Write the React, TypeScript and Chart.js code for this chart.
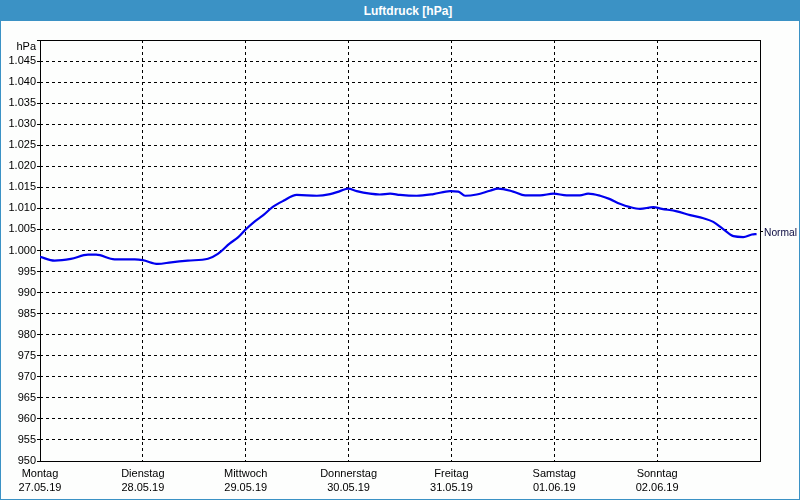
import React, { useEffect, useRef } from "react";
import { Chart, registerables } from "chart.js";

Chart.register(...registerables);

const hours = [
  0, 3.4, 7.2, 11.2, 13.1, 17.4, 22.1, 24.0, 27.5, 30.6, 34.5, 39.2, 41.5, 44.3, 46.2,
  48.1, 50.2, 52.1, 54.1, 56.8, 59.9, 64.6, 67.7, 70.0, 71.9, 73.9, 77.0, 79.3, 81.7,
  84.0, 87.9, 91.8, 95.7, 97.6, 99.2, 101.9, 105.0, 106.9, 110.4, 113.2, 116.7, 119.8,
  122.9, 126.0, 127.9, 130.7, 133.0, 135.3, 137.7, 140.0, 143.1, 145.1, 148.6, 151.7,
  154.8, 157.1, 159.4, 161.8, 164.1, 166.1, 167.2,
];
const pressure = [
  998.5, 997.6, 998.0, 999.0, 999.0, 997.9, 997.9, 997.7, 996.8, 997.2, 997.6, 998.05, 999.2,
  1001.7, 1003.1, 1005.1, 1007.0, 1008.4, 1010.2, 1011.8, 1013.2, 1013.0, 1013.4, 1014.1,
  1014.7, 1014.1, 1013.5, 1013.3, 1013.5, 1013.2, 1013.0, 1013.4, 1014.1, 1014.0, 1013.0,
  1013.3, 1014.2, 1014.7, 1014.0, 1013.1, 1013.1, 1013.5, 1013.1, 1013.1, 1013.5, 1013.0,
  1012.2, 1011.1, 1010.3, 1009.9, 1010.3, 1009.9, 1009.3, 1008.4, 1007.65, 1006.8, 1005.1,
  1003.4, 1003.2, 1003.8, 1003.9,
];
const dayNames = ["Montag", "Dienstag", "Mittwoch", "Donnerstag", "Freitag", "Samstag", "Sonntag"];
const dayDates = ["27.05.19", "28.05.19", "29.05.19", "30.05.19", "31.05.19", "01.06.19", "02.06.19"];
const yMin = 950;
const yMax = 1050;
const yStep = 5;
const normalValue = 1004.6;
const normalLabel = "Normal";
const unitLabel = "hPa";
const title = "Luftdruck [hPa]";

const FONT = "'Liberation Sans', Arial, sans-serif";

function fmtY(v: number): string {
  if (v >= yMax) return "";
  if (v >= 1000) {
    const s = String(v);
    return s[0] + "." + s.slice(1);
  }
  return String(v);
}

const overlayPlugin = {
  id: "overlay",
  beforeDatasetsDraw(chart: any) {
    const { ctx, chartArea } = chart;
    ctx.save();
    ctx.strokeStyle = "#000";
    ctx.lineWidth = 1;
    ctx.setLineDash([]);
    ctx.strokeRect(
      Math.round(chartArea.left) + 0.5,
      Math.round(chartArea.top) + 0.5,
      Math.round(chartArea.right - chartArea.left),
      Math.round(chartArea.bottom - chartArea.top)
    );
    ctx.restore();
  },
  afterDraw(chart: any) {
    const { ctx, chartArea, scales } = chart;
    ctx.save();
    ctx.font = "11px " + FONT;
    ctx.fillStyle = "#000";
    ctx.textAlign = "right";
    ctx.textBaseline = "middle";
    ctx.fillText(unitLabel, chartArea.left - 4, chartArea.top + 7);
    const ny = Math.round(scales.y.getPixelForValue(normalValue)) + 0.5;
    ctx.strokeStyle = "#000";
    ctx.lineWidth = 1;
    ctx.beginPath();
    ctx.moveTo(chartArea.right + 1, ny);
    ctx.lineTo(chartArea.right + 3, ny);
    ctx.stroke();
    ctx.fillStyle = "#0a0a40";
    ctx.textAlign = "left";
    ctx.fillText(normalLabel, chartArea.right + 4, ny + 1, 33);
    ctx.restore();
  },
};

export default function App() {
  const ref = useRef<HTMLCanvasElement>(null);
  useEffect(() => {
    if (!ref.current) return;
    const chart = new Chart(ref.current, {
      type: "line",
      data: {
        datasets: [
          {
            data: hours.map((h, i) => ({ x: h, y: pressure[i] })),
            borderColor: "#0000ee",
            borderWidth: 2.2,
            pointRadius: 0,
            tension: 0.4,
            cubicInterpolationMode: "monotone",
            fill: false,
          },
        ],
      },
      options: {
        animation: false,
        responsive: false,
        devicePixelRatio: 1,
        layout: { padding: { top: 19, right: 39, left: 0, bottom: 0 } },
        plugins: { legend: { display: false }, tooltip: { enabled: false }, title: { display: false } },
        scales: {
          x: {
            type: "linear",
            min: 0,
            max: 168,
            afterFit: (s: any) => {
              s.height = 38;
            },
            afterBuildTicks: (s: any) => {
              s.ticks = [0, 24, 48, 72, 96, 120, 144, 168].map((v) => ({ value: v }));
            },
            ticks: {
              autoSkip: false,
              maxRotation: 0,
              padding: 6,
              color: "#000",
              font: { family: FONT, size: 11, lineHeight: 1.3 },
              callback: (v: any) => {
                const i = Math.round(Number(v) / 24);
                return i < dayNames.length ? [dayNames[i], dayDates[i]] : "";
              },
            },
            grid: { color: "#000", lineWidth: 1, drawTicks: false },
            border: { display: false, dash: [3, 3] },
          },
          y: {
            min: yMin,
            max: yMax,
            afterFit: (s: any) => {
              s.width = 39;
            },
            ticks: {
              stepSize: yStep,
              autoSkip: false,
              padding: 1,
              color: "#000",
              font: { family: FONT, size: 11 },
              callback: (v: any) => fmtY(Number(v)),
            },
            grid: { color: "#000", lineWidth: 1, tickLength: 3, tickBorderDash: [] },
            border: { display: false, dash: [3, 3] },
          },
        },
      },
      plugins: [overlayPlugin],
    } as any);
    return () => chart.destroy();
  }, []);

  return (
    <div
      style={{
        position: "fixed",
        left: 0,
        top: 0,
        width: 800,
        height: 500,
        boxSizing: "border-box",
        border: "1px solid #3b92c5",
        background: "#fdfefd",
        overflow: "hidden",
      }}
    >
      <div
        style={{
          position: "absolute",
          left: 0,
          top: 0,
          width: 798,
          height: 20,
          background: "#3b92c5",
          color: "#fff",
          font: "bold 12px " + FONT,
          lineHeight: "20px",
          textAlign: "center",
          paddingLeft: 16,
          boxSizing: "border-box",
        }}
      >
        {title}
      </div>
      <canvas
        ref={ref}
        width={798}
        height={478}
        style={{ position: "absolute", left: 0, top: 20, width: 798, height: 478 }}
      />
    </div>
  );
}
